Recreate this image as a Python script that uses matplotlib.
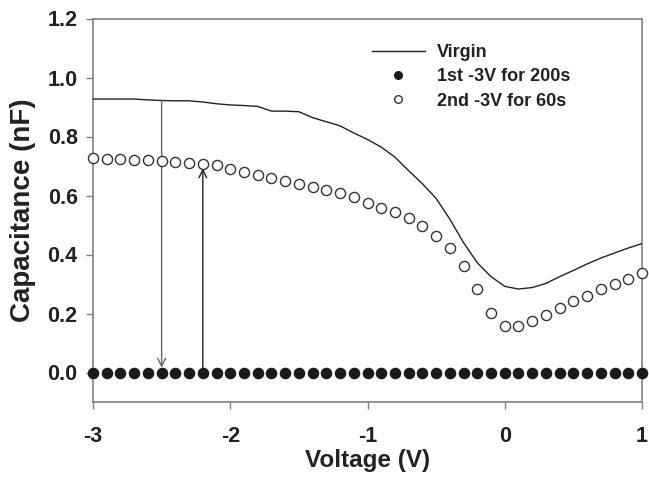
import matplotlib
matplotlib.use("Agg")
import matplotlib.pyplot as plt
import numpy as np

plt.rcParams['font.family'] = ['Liberation Sans', 'DejaVu Sans']
plt.rcParams['font.weight'] = 'bold'

voltage = [round(-3.0 + 0.1 * i, 1) for i in range(41)]

virgin = [0.927, 0.927, 0.927, 0.927, 0.924, 0.922, 0.921, 0.921, 0.917, 0.911,
          0.907, 0.905, 0.902, 0.886, 0.886, 0.884, 0.864, 0.850, 0.836, 0.812,
          0.790, 0.764, 0.730, 0.684, 0.640, 0.590, 0.520, 0.440, 0.372, 0.325,
          0.292, 0.283, 0.288, 0.302, 0.325, 0.346, 0.368, 0.388, 0.405, 0.422,
          0.437]

first = [0.0] * 41

second = [0.726, 0.724, 0.723, 0.720, 0.719, 0.718, 0.713, 0.710, 0.706, 0.703,
          0.690, 0.681, 0.670, 0.659, 0.649, 0.639, 0.628, 0.618, 0.608, 0.596,
          0.574, 0.559, 0.543, 0.525, 0.498, 0.464, 0.421, 0.361, 0.283, 0.203,
          0.159, 0.156, 0.173, 0.195, 0.218, 0.241, 0.261, 0.283, 0.299, 0.317,
          0.337]

labels = ['Virgin', '1st -3V for 200s', '2nd -3V for 60s']
xticks = [-3, -2, -1, 0, 1]
yticks = [0.0, 0.2, 0.4, 0.6, 0.8, 1.0, 1.2]

fig = plt.figure(figsize=(6.49, 4.78), dpi=100)
ax = fig.add_axes([93 / 649, 76 / 478, (642 - 93) / 649, (402 - 18.5) / 478])

ax.plot(voltage, virgin, color='#222222', lw=1.0, label=labels[0], zorder=3)
ax.plot(voltage, first, 'o', ms=7.3, color='#1a1a1a', mec='#1a1a1a', label=labels[1],
        zorder=4, clip_on=False)
ax.plot(voltage, second, 'o', ms=7.3, mfc='white', mec='#333333', mew=1.0,
        label=labels[2], zorder=4, clip_on=False)

# arrows
ax.annotate('', xy=(-2.5, 0.016), xytext=(-2.5, 0.924),
            arrowprops=dict(arrowstyle='->', color='#666666', lw=1.0,
                            shrinkA=0, shrinkB=0, mutation_scale=14))
ax.annotate('', xy=(-2.2, 0.692), xytext=(-2.2, 0.0),
            arrowprops=dict(arrowstyle='->', color='#222222', lw=1.0,
                            shrinkA=0, shrinkB=0, mutation_scale=14))

ax.set_xlim(-3, 1)
ax.set_ylim(-0.1, 1.2)
ax.set_xticks(xticks)
ax.set_xticklabels([str(t) for t in xticks])
ax.set_yticks(yticks)
ax.set_yticklabels(['%.1f' % t for t in yticks])

for s in ax.spines.values():
    s.set_color('#808080')
    s.set_linewidth(1.2)
ax.tick_params(direction='out', length=5, width=1.0, color='#808080',
               labelsize=15.5, labelcolor='#222222', pad=6)
ax.tick_params(axis='x', pad=12)
for lab in ax.get_xticklabels() + ax.get_yticklabels():
    lab.set_fontweight('bold')

ax.set_xlabel('Voltage (V)', fontsize=17.5, fontweight='bold', color='#222222', labelpad=1.5)
ax.set_ylabel('Capacitance (nF)', fontsize=20, fontweight='bold', color='#222222', labelpad=8)

leg = ax.legend(loc='upper left', bbox_to_anchor=(356 / 649, 1 - 28 / 478),
                bbox_transform=fig.transFigure, frameon=False, fontsize=13,
                handlelength=2.9, handletextpad=0.7, labelspacing=0.4,
                markerscale=0.75)
for t in leg.get_texts():
    t.set_fontweight('bold')
    t.set_color('#222222')

fig.savefig('out.png', dpi=100)
